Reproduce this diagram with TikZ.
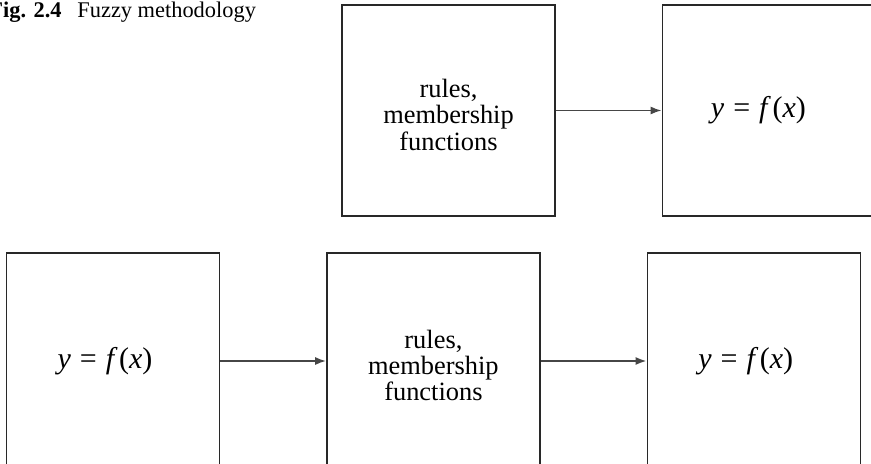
\documentclass[tikz,border=0pt]{standalone}
\usepackage{fontspec}
\setmainfont{Liberation Serif}
\usepackage{tikz}
\usetikzlibrary{arrows.meta, positioning}
\definecolor{boxline}{RGB}{40,40,40}
\definecolor{arrowline}{RGB}{70,70,70}
\newcommand{\yfx}{\raisebox{-3.5pt}[0pt][0pt]{\fontsize{15}{15}\selectfont\textit{y}\hspace{0.3em}=\hspace{0.3em}\textit{f}\kern0.05em(\textit{x})}}
\newcommand{\rulestext}{\raisebox{-7pt}[0pt][0pt]{\begin{tabular}{@{}c@{}}rules,\\membership\\functions\end{tabular}}}

\begin{document}
\begin{tikzpicture}[
    x=0.5pt, y=-0.5pt,
    block/.style={rectangle, draw=boxline, line width=0.7pt,
                  minimum width=106.5pt, minimum height=105.5pt,
                  font=\fontsize{13.2}{13}\selectfont},
    arrow/.style={-{Latex[length=5.5pt,width=4pt]}, draw=arrowline, line width=0.9pt},
    node distance=53pt
]
\useasboundingbox (0,0) rectangle (871,464);

% Caption
\node[anchor=base east, inner sep=0pt, font=\fontsize{11.2}{13}\selectfont\bfseries] (capnum) at (62,18) {Fig. 2.4};
\node[anchor=base west, inner sep=0pt, font=\fontsize{11.2}{13}\selectfont] (captext) at (77,18) {Fuzzy methodology};

% Upper row
\node[block] (rules1) at (448.5,110.5) {\rulestext};
\node[block, minimum width=115pt, right=of rules1] (out1) {\yfx\hspace*{19pt}};

% Lower row
\node[block, minimum height=108pt] (in2) at (113,361) {\yfx\hspace*{8pt}};
\node[block, minimum height=108pt, right=of in2] (rules2) {\rulestext};
\node[block, minimum height=108pt, right=of rules2] (out2) {\yfx\hspace*{8pt}};

% Arrows
\draw[arrow] (rules1) -- (out1);
\draw[arrow] (in2) -- (rules2);
\draw[arrow] (rules2) -- (out2);
\end{tikzpicture}
\end{document}
